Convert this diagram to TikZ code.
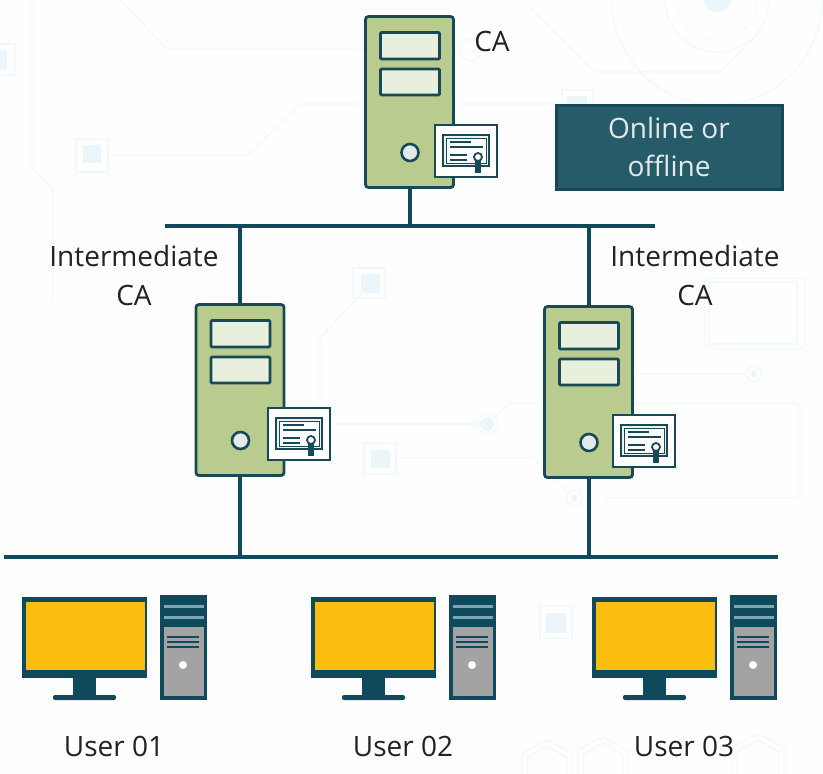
\documentclass[tikz,border=0pt]{standalone}
\usepackage{fontspec}
\setmainfont{Open Sans}
\usepackage{xcolor}
\usetikzlibrary{calc}
\definecolor{navy}{HTML}{0F4A5C}
\definecolor{edge}{HTML}{174A56}
\definecolor{boxfill}{HTML}{265C6A}
\definecolor{boxedge}{HTML}{174654}
\definecolor{caseg}{HTML}{B9CB8E}
\definecolor{slotg}{HTML}{E8EFDC}
\definecolor{btn}{HTML}{E4EAEC}
\definecolor{certg}{HTML}{EEF2F2}
\definecolor{screen}{HTML}{FBBC10}
\definecolor{towerg}{HTML}{A3A3A3}
\definecolor{stripe}{HTML}{7FA6B5}
\definecolor{faint}{HTML}{F2F9FB}
\definecolor{faintfill}{HTML}{EAF6FA}
\definecolor{paper}{HTML}{FEFEFE}
\definecolor{txt}{HTML}{222222}
\tikzset{
  link/.style={draw=navy, line width=4pt},
  bus/.style={draw=navy, line width=4pt},
  casebox/.style={draw=edge, fill=caseg, line width=2.8pt, rounded corners=3pt, minimum width=88pt, minimum height=171pt, inner sep=0pt},
  slot/.style={draw=edge, fill=slotg, line width=2.6pt, rounded corners=1pt},
  knob/.style={draw=edge, fill=btn, line width=2.6pt},
  certbox/.style={draw=edge, fill=white, line width=2.6pt},
  certin/.style={draw=edge, line width=1.2pt},
  lab/.style={text=txt, font=\fontsize{28}{39}\selectfont, align=center},
  backg/.style={draw=faint, line width=1.3pt},
  backfill/.style={fill=faintfill},
  darkbox/.style={draw=boxedge, fill=boxfill, line width=3pt, text=btn, font=\fontsize{28}{38}\selectfont, align=center, minimum width=226pt, minimum height=84pt, inner sep=0pt}
}
% server body, slots, knob and certificate: name, centre x, centre y, cert x, cert y
\newcommand{\drawserver}[5]{
  \node[casebox] (#1) at (#2,#3) {};
  \draw[slot] ($(#1.center)+(-29,-69.5)$) rectangle ($(#1.center)+(30,-43)$);
  \draw[slot] ($(#1.center)+(-29,-33)$) rectangle ($(#1.center)+(30,-7)$);
  \draw[knob] ($(#1.center)+(0.5,50.5)$) circle (8.5);
  \coordinate (#1cert) at (#4,#5);
  \draw[certbox] ($(#1cert)+(-31,-26)$) rectangle ($(#1cert)+(31,26)$);
  \draw[certin, fill=certg] ($(#1cert)+(-23,-16)$) rectangle ($(#1cert)+(23,15)$);
  \draw[certin, fill=white, line width=0.7pt] ($(#1cert)+(-20,-13)$) rectangle ($(#1cert)+(20,12)$);
  \draw[certin] ($(#1cert)+(-16,-9)$) -- ($(#1cert)+(5,-9)$);
  \draw[certin] ($(#1cert)+(-16,-4)$) -- ($(#1cert)+(17,-4)$);
  \draw[certin, line width=1.6pt] ($(#1cert)+(-16,4)$) -- ($(#1cert)+(1,4)$);
  \draw[certin, line width=1.6pt] ($(#1cert)+(-16,9)$) -- ($(#1cert)+(1,9)$);
  \fill[edge] ($(#1cert)+(9,8)$) rectangle ($(#1cert)+(15,22)$);
  \draw[certin, fill=white, line width=1.8pt] ($(#1cert)+(12,6)$) circle (4);
}
% hexagon of the backdrop, cut off by the lower edge: centre x, half width, top y
\newcommand{\backhex}[3]{
  \draw[backg] (#1-#2,774) -- (#1-#2,#3+13) -- (#1,#3) -- (#1+#2,#3+13) -- (#1+#2,774);
  \draw[backg] (#1-#2+5,774) -- (#1-#2+5,#3+18) -- (#1,#3+6) -- (#1+#2-5,#3+18) -- (#1+#2-5,774);
}
\begin{document}
\begin{tikzpicture}[x=1pt,y=-1pt]
  \useasboundingbox (0,0) rectangle (823,774);
  \fill[paper] (0,0) rectangle (823,774);
  % faint backdrop
  \draw[backg] (717,0) circle (105);
  \draw[backg] (717,0) circle (52);
  \draw[backg, dashed] (717,0) circle (40);
  \fill[backfill] (717,-2) circle (14);
  \draw[backg] (530,7) -- (595,72) -- (720,72) -- (760,32);
  \draw[backg] (120,0) -- (167,49) -- (460,49);
  \draw[backg] (471,50) circle (11);
  \draw[backg] (32,0) -- (32,168) -- (53,190) -- (53,300);
  \draw[backg] (108,155) -- (248,155) -- (300,104) -- (562,104);
  \draw[backg] (76,139) rectangle (108,172);
  \fill[backfill] (83,145) rectangle (101,163);
  \draw[backg] (-5,44) rectangle (15,75);
  \fill[backfill] (-5,50) rectangle (7,70);
  \draw[backg] (562,104) -- (562,90) -- (593,90) -- (593,104);
  \fill[backfill] (567,96) rectangle (587,104);
  \draw[backg] (353,268) rectangle (385,298);
  \fill[backfill] (361,274) rectangle (380,293);
  \draw[backg] (365,290) -- (320,338) -- (320,407);
  \draw[backg] (337,424) -- (477,424);
  \draw[backg] (487,424) circle (10);
  \fill[backfill] (487,424) circle (7);
  \draw[backg] (495,417) -- (509,403) -- (543,403);
  \draw[backg, rounded corners=4pt] (633,403) -- (800,403) -- (800,498) -- (604,498);
  \draw[backg] (364,443) rectangle (396,474);
  \fill[backfill] (371,450) rectangle (390,468);
  \draw[backg] (396,458) -- (533,458) -- (568,492);
  \draw[backg] (574,498) circle (8);
  \fill[backfill] (574,498) circle (3);
  \draw[backg, rounded corners=4pt] (705,278) rectangle (805,349);
  \draw[backg] (709,282) rectangle (797,344);
  \draw[backg] (637,374) -- (746,374);
  \draw[backg] (754,374) circle (8);
  \fill[backfill] (754,374) circle (3);
  \draw[backg] (540,606) rectangle (572,638);
  \fill[backfill] (546,613) rectangle (566,633);
  \backhex{547}{25}{740}
  \backhex{603}{25}{737}
  \backhex{758}{26}{734}
  % bus lines
  \coordinate (topl) at (165,226);
  \coordinate (topr) at (655,226);
  \coordinate (lowl) at (4,557);
  \coordinate (lowr) at (778,557);
  % servers
  \drawserver{rootca}{409.5}{102}{466}{151}
  \drawserver{leftca}{240}{390}{299}{434}
  \drawserver{rightca}{588.5}{392}{644}{441}
  \draw[link] (rootca) -- (rootca |- topl);
  \draw[link] (leftca) -- (leftca |- topl);
  \draw[link] (rightca) -- (rightca |- topl);
  \draw[link] (leftca) -- (leftca |- lowl);
  \draw[link] (rightca) -- (rightca |- lowl);
  \draw[bus] (topl) -- (topr);
  \draw[bus] (lowl) -- (lowr);
  % labels
  \node[lab] (calab) at (492,41) {CA};
  \node[lab] (leftlab) at (134,275) {Intermediate\\CA};
  \node[lab] (rightlab) at (695,275) {Intermediate\\CA};
  \node[darkbox] (modebox) at (669,147) {Online or\\offline};
  % user machines
  \foreach \dx/\who/\nx in {0/01/114, 289/02/403, 570/03/684}{
    \begin{scope}[shift={(\dx,0)}]
      \fill[navy] (22,597) rectangle (147,678);
      \fill[screen] (26,602) rectangle (145,670);
      \fill[navy] (73,678) rectangle (96,696);
      \fill[navy, rounded corners=2pt] (53,695) rectangle (116,700);
      \fill[navy] (159.5,595) rectangle (207,700);
      \fill[towerg] (163.5,627) rectangle (204,696);
      \fill[stripe] (164,605) rectangle (204,607.5);
      \fill[stripe] (164,616) rectangle (204,618.5);
      \foreach \yy in {636,641,646}
        \fill[navy] (167,\yy) rectangle (199,\yy+2.4);
      \fill[white] (183,665) circle (4);
    \end{scope}
    \node[lab] (user\who) at (\nx,746) {User \who};
  }
\end{tikzpicture}
\end{document}
